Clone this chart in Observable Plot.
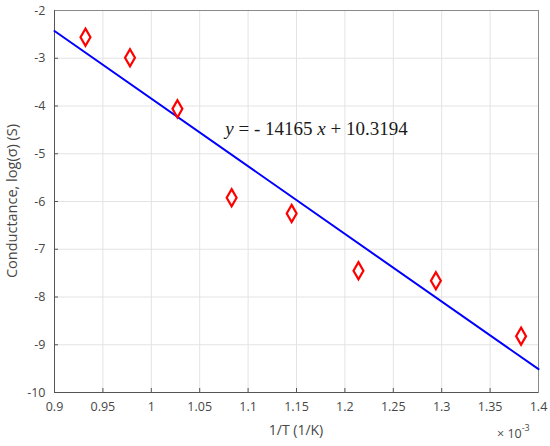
<!DOCTYPE html>
<html>
<head>
<meta charset="utf-8">
<script src="https://cdn.jsdelivr.net/npm/d3@7"></script>
<script src="https://cdn.jsdelivr.net/npm/@observablehq/plot@0.6"></script>
<style>
  html, body { margin: 0; padding: 0; background: #fff; }
  #chart svg { display: block; }
</style>
</head>
<body>
<div id="chart"></div>
<script>
// Data (1/T in units of 1e-3 1/K, conductance as log(sigma))
const invT = [0.932, 0.978, 1.027, 1.083, 1.145, 1.214, 1.294, 1.382];
const logSigma = [-2.56, -2.99, -4.06, -5.92, -6.25, -7.45, -7.66, -8.82];
const fitSlope = -14165;
const fitIntercept = 10.3194;
const fitRange = [0.9, 1.4];
const xTicks = [0.9, 0.95, 1, 1.05, 1.1, 1.15, 1.2, 1.25, 1.3, 1.35, 1.4];
const yTicks = [-2, -3, -4, -5, -6, -7, -8, -9, -10];

const points = invT.map((x, i) => ({x, y: logSigma[i]}));
const fitLine = fitRange.map(x => ({x, y: fitSlope * x * 1e-3 + fitIntercept}));

const font = "'Open Sans', sans-serif";
const grey = "#474747";
const fmt = d => String(+(+d).toFixed(2));

const chart = Plot.plot({
  width: 550,
  height: 446,
  marginLeft: 54,
  marginRight: 12,
  marginTop: 10,
  marginBottom: 54,
  style: {fontFamily: font, fontSize: "12.5px", color: grey, background: "#fff"},
  x: {domain: [0.9, 1.4]},
  y: {domain: [-10, -2]},
  marks: [
    Plot.gridX(xTicks, {stroke: "#e3e3e3", strokeOpacity: 1, strokeWidth: 1}),
    Plot.gridY(yTicks, {stroke: "#e3e3e3", strokeOpacity: 1, strokeWidth: 1}),
    Plot.axisX(xTicks, {tickSize: -4, text: null, label: null, stroke: "#555"}),
    Plot.axisY(yTicks, {tickSize: -4, text: null, label: null, stroke: "#555"}),
    Plot.axisX(xTicks, {tickSize: 0, tickPadding: 10, fill: grey, label: null, tickFormat: fmt}),
    Plot.axisY(yTicks, {tickSize: 0, tickPadding: 9, fill: grey, label: null, tickFormat: fmt}),
    Plot.frame({stroke: "#8a8a8a", strokeWidth: 1}),
    Plot.ruleY([-10], {stroke: "#555"}),
    Plot.ruleX([0.9], {stroke: "#555"}),
    Plot.line(fitLine, {x: "x", y: "y", stroke: "#0000ff", strokeWidth: 2}),
    Plot.dot(points, {x: "x", y: "y", symbol: "diamond", r: 5.2, stroke: "#ff0000", strokeWidth: 2.2, fill: "none"})
  ]
});

document.getElementById("chart").appendChild(chart);

const svg = d3.select(chart);
const sx = chart.scale("x");
const sy = chart.scale("y");

// Regression equation annotation
const eq = svg.append("text")
  .attr("x", sx.apply(1.077))
  .attr("y", sy.apply(-4.62))
  .attr("text-anchor", "start")
  .attr("font-family", "'Liberation Serif', 'Times New Roman', serif")
  .attr("font-size", 19)
  .attr("fill", "#1a1a1a");
eq.append("tspan").attr("font-style", "italic").text("y");
eq.append("tspan").text(" = - 14165 ");
eq.append("tspan").attr("font-style", "italic").text("x");
eq.append("tspan").text(" + 10.3194");

// Axis titles
svg.append("text")
  .attr("x", (sx.range[0] + sx.range[1]) / 2)
  .attr("y", 435)
  .attr("text-anchor", "middle")
  .attr("font-family", font)
  .attr("font-size", 14)
  .attr("fill", grey)
  .text("1/T (1/K)");

svg.append("text")
  .attr("transform", `translate(17,${(sy.range[0] + sy.range[1]) / 2}) rotate(-90)`)
  .attr("text-anchor", "middle")
  .attr("font-family", font)
  .attr("font-size", 14.5)
  .attr("fill", grey)
  .text("Conductance, log(σ) (S)");

// Exponent marker
const ex = svg.append("text")
  .attr("x", 497)
  .attr("y", 438)
  .attr("text-anchor", "start")
  .attr("font-family", font)
  .attr("font-size", 12.5)
  .attr("fill", grey);
ex.append("tspan").text("× 10");
ex.append("tspan").attr("dy", -7).attr("font-size", 9).text("-3");
</script>
</body>
</html>
